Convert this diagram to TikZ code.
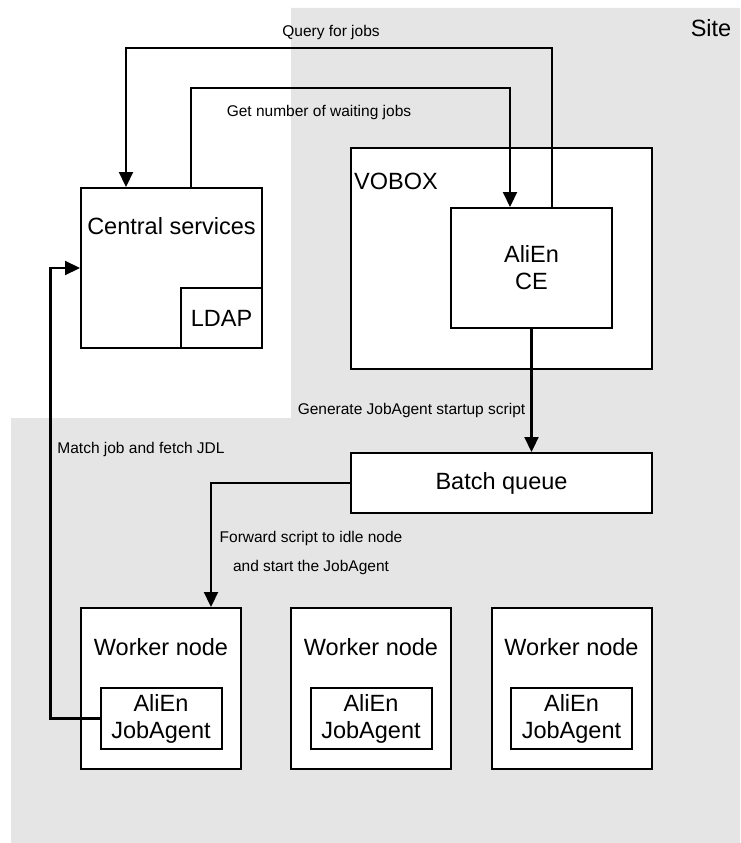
\documentclass[tikz,border=0pt]{standalone}
\usepackage{fontspec}
\setmainfont{Liberation Sans}
\usetikzlibrary{arrows.meta,positioning}
\definecolor{sitegray}{RGB}{229,229,229}
\begin{document}
\begin{tikzpicture}[x=1pt,y=-1pt]
       \tikzset{>={Triangle[length=15pt,width=14pt]}}
       \tikzset{box/.style={draw, line width=2pt, fill=white, inner sep=0pt},
                big/.style={inner sep=0pt, font=\fontsize{23.5}{27}\selectfont, align=center},
                small/.style={inner sep=0pt, font=\fontsize{15.5}{29}\selectfont, align=center},
                flow/.style={->, line width=2.2pt}}
       \useasboundingbox (0,0) rectangle (740,843);
       % site area
       \fill[sitegray] (291,8) -- (740,8) -- (740,843) -- (11,843) -- (11,418) -- (291,418) -- cycle;
       \node[big] (site) at (711,28) {Site};
       % central services
       \node[box, minimum width=181pt, minimum height=160pt] (cs) at (171.5,268) {};
       \node[big] (cslabel) at ([yshift=-39pt]cs.north) {Central services};
       \node[box, big, minimum width=81pt, minimum height=60pt] (ldap) at (221.5,318) {LDAP};
       % vobox and CE
       \node[box, minimum width=301pt, minimum height=221pt] (vobox) at (501.5,258.5) {};
       \node[big, anchor=west] (voboxlabel) at ([xshift=4pt,yshift=-34pt]vobox.north west) {VOBOX};
       \node[box, big, minimum width=161pt, minimum height=120pt] (ce) at (531.5,268) {AliEn\\CE};
       \node[box, big, minimum width=301pt, minimum height=60pt] (batch) at (501.5,483) {Batch queue};
       % worker nodes
       \foreach \i/\x in {1/161,2/371,3/571.5} {
           \node[box, minimum width=160pt, minimum height=161pt] (wn\i) at (\x,688.5) {};
           \node[big] (wnlabel\i) at ([yshift=-40pt]wn\i.north) {Worker node};
           \node[box, big, minimum width=121pt, minimum height=61pt] (ja\i) at (\x,718.5) {AliEn\\JobAgent};
       }
       % connections
       \coordinate (querytop) at (126,48);
       \coordinate (waittop) at (191,88);
       \draw[flow] ([xshift=20.5pt]ce.north) |- (querytop) -- ([xshift=-45.5pt]cs.north);
       \node[small] (querylabel) at (331,32) {Query for jobs};
       \draw[flow] (waittop |- cs.north) -- (waittop) -| ([xshift=-21.5pt]ce.north);
       \node[small] (waitlabel) at (319,112) {Get number of waiting jobs};
       \draw[flow] (ce.south) -- (ce.south |- batch.north);
       \node[small] (genlabel) at (411.5,410) {Generate JobAgent startup script};
       \draw[flow] (batch.west) -| ([xshift=50pt]wn1.north);
       \node[small] (fwdlabel) at (311,552.5) {Forward script to idle node\\and start the JobAgent};
       \draw[flow] (ja1.west) -- ++(-49,0) |- (cs.west);
       \node[small] (matchlabel) at (141,449) {Match job and fetch JDL};
\end{tikzpicture}
\end{document}
